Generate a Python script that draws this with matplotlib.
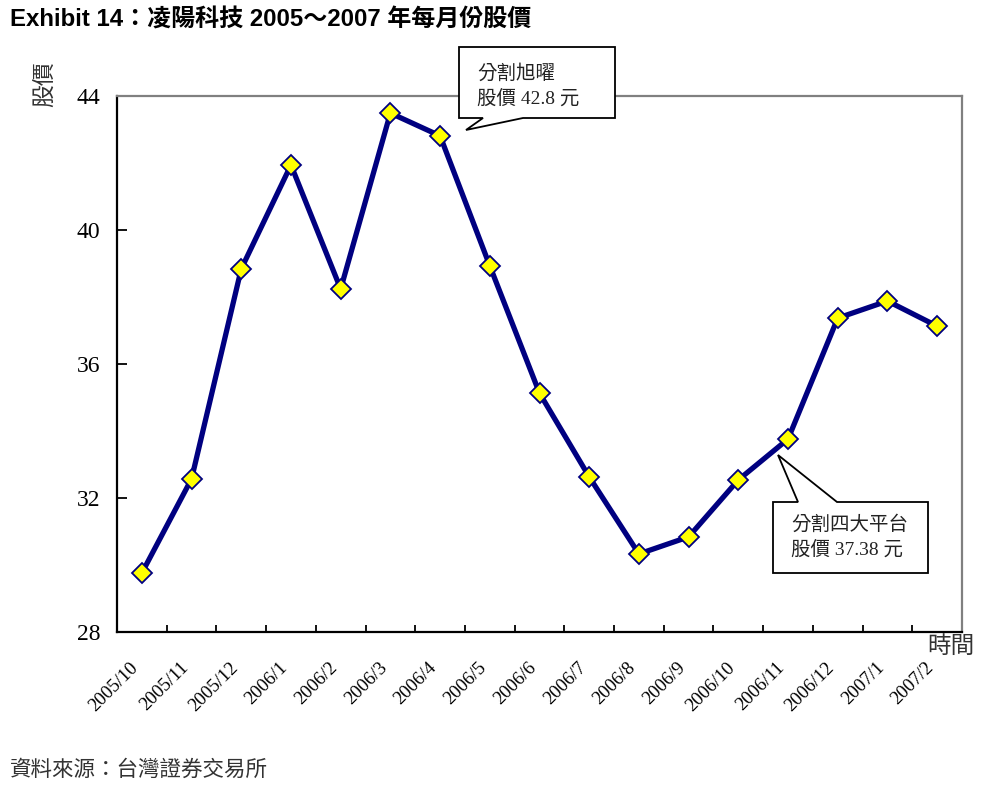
import matplotlib
matplotlib.use("Agg")
import matplotlib.pyplot as plt
from matplotlib.patches import Polygon

plt.rcParams['font.family'] = ['Liberation Serif', 'Noto Sans CJK TC', 'DejaVu Sans']

months = ["2005/10", "2005/11", "2005/12", "2006/1", "2006/2", "2006/3", "2006/4",
          "2006/5", "2006/6", "2006/7", "2006/8", "2006/9", "2006/10", "2006/11",
          "2006/12", "2007/1", "2007/2"]
prices = [29.76, 32.57, 38.84, 41.94, 38.24, 43.49, 42.81, 38.93, 35.13, 32.63,
          30.33, 30.84, 32.54, 33.76, 37.37, 37.88, 37.13]
yticks = [28, 32, 36, 40, 44]

title = "Exhibit 14：凌陽科技 2005～2007 年每月份股價"
source = "資料來源：台灣證券交易所"
ylabel = "股價"
xlabel = "時間"
note1 = "分割旭曜\n股價 42.8 元"
note2 = "分割四大平台\n股價 37.38 元"

W, H = 1000, 796
fig = plt.figure(figsize=(W / 100, H / 100), dpi=100)
ax = fig.add_axes([117 / W, 1 - 632 / H, (962 - 117) / W, (632 - 96) / H])

x = list(range(len(months)))
ax.plot(x, prices, color='#000080', lw=3.8, marker='D', ms=10,
        mfc='#FFFF00', mec='#000080', mew=1.3, zorder=3, clip_on=False)

ax.set_xlim(-0.5, len(months) - 0.5)
ax.set_ylim(yticks[0], yticks[-1])
ax.set_yticks(yticks)
ax.set_xticks([i + 0.5 for i in range(len(months) - 1)])
ax.set_xticklabels([])
ax.tick_params(axis='x', direction='in', length=5, width=1.3)
ax.tick_params(axis='y', direction='in', length=7, width=1.3, pad=12, labelsize=17)
for lab in ax.get_yticklabels():
    lab.set_family(['Liberation Serif'])

for s in ['left', 'bottom']:
    ax.spines[s].set_color('black')
    ax.spines[s].set_linewidth(1.6)
for s in ['top', 'right']:
    ax.spines[s].set_color('#808080')
    ax.spines[s].set_linewidth(1.6)

for i, m in enumerate(months):
    ax.annotate(m, xy=(i, 0), xycoords=('data', 'axes fraction'),
                xytext=(-12, -27), textcoords='offset pixels',
                rotation=45, ha='right', va='top', rotation_mode='anchor',
                fontsize=13.5, family=['Liberation Serif'])

def fx(px):
    return px / W

def fy(py):
    return 1 - py / H

# callout 1
poly1 = [(459, 47), (615, 47), (615, 118), (523, 118), (466, 130), (483, 118), (459, 118)]
fig.add_artist(Polygon([(fx(a), fy(b)) for a, b in poly1], closed=True,
                       transform=fig.transFigure, fc='white', ec='black', lw=1.3, zorder=5))
fig.text(fx(477), fy(86), note1, fontsize=14, va='center', ha='left',
         linespacing=1.45, color='#222222', zorder=6)

# callout 2
poly2 = [(773, 502), (798, 502), (778, 455), (837, 502), (928, 502), (928, 573), (773, 573)]
fig.add_artist(Polygon([(fx(a), fy(b)) for a, b in poly2], closed=True,
                       transform=fig.transFigure, fc='white', ec='black', lw=1.3, zorder=5))
fig.text(fx(791), fy(537), note2, fontsize=14, va='center', ha='left',
         linespacing=1.45, color='#222222', zorder=6)

fig.text(fx(45), fy(84), ylabel, rotation=90, fontsize=16.5, ha='center', va='center',
         color='#333333')
fig.text(fx(951), fy(647), xlabel, fontsize=17, ha='center', va='center', color='#333333')

fig.text(fx(10), fy(20), title, fontsize=17.3, fontweight='bold', ha='left', va='center',
         family=['Liberation Sans', 'Noto Sans CJK TC'])
fig.text(fx(10), fy(770), source, fontsize=15.5, ha='left', va='center', color='#333333',
         family=['Noto Sans CJK TC'])

fig.savefig('out.png', dpi=100)
